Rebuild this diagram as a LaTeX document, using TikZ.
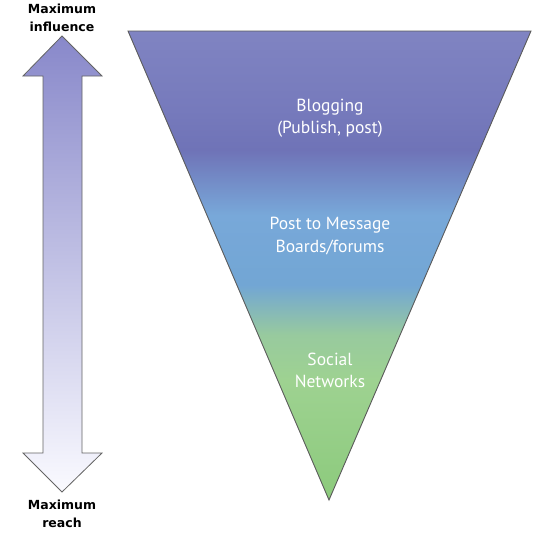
\documentclass[tikz,border=0pt]{standalone}
\usepackage{fontspec}
\setmainfont{PT Sans}
\newfontfamily\labfont{DejaVu Sans}
\begin{document}
\begin{tikzpicture}[x=1pt,y=-1pt,
  lab/.style={font=\labfont\bfseries\fontsize{12.5}{18}\selectfont, text=black, align=center, inner sep=0pt},
  tri/.style={font=\fontsize{17.5}{22.5}\selectfont, text=white, align=center, inner sep=0pt},
  band/.style={draw=none}]
\useasboundingbox (0,0) rectangle (540,546);
% funnel
\coordinate (tl) at (128,31);
\coordinate (tr) at (531,31);
\coordinate (bt) at (329,500);
\begin{scope}
\clip (tl) -- (tr) -- (bt) -- cycle;
\shade[top color={rgb,255:red,128;green,132;blue,194}, bottom color={rgb,255:red,118;green,122;blue,188}] (120,30) rectangle (540,110);
\shade[top color={rgb,255:red,118;green,122;blue,188}, bottom color={rgb,255:red,111;green,115;blue,183}] (120,110) rectangle (540,150);
\shade[top color={rgb,255:red,111;green,115;blue,183}, bottom color={rgb,255:red,120;green,168;blue,217}] (120,150) rectangle (540,215);
\shade[top color={rgb,255:red,120;green,168;blue,217}, bottom color={rgb,255:red,114;green,166;blue,212}] (120,215) rectangle (540,285);
\shade[top color={rgb,255:red,114;green,166;blue,212}, bottom color={rgb,255:red,152;green,202;blue,158}] (120,285) rectangle (540,335);
\shade[top color={rgb,255:red,152;green,202;blue,158}, bottom color={rgb,255:red,158;green,210;blue,145}] (120,335) rectangle (540,380);
\shade[top color={rgb,255:red,158;green,210;blue,145}, bottom color={rgb,255:red,140;green,202;blue,124}] (120,380) rectangle (540,502);
\end{scope}
\draw[draw={rgb,255:red,90;green,90;blue,90}, line width=0.9pt, line join=miter] (tl) -- (tr) -- (bt) -- cycle;
% arrow
\shade[top color={rgb,255:red,136;green,136;blue,202}, bottom color={rgb,255:red,250;green,250;blue,255}, draw={rgb,255:red,100;green,100;blue,100}, line width=0.8pt]
  (62,36) -- (102,76) -- (82,76) -- (82,453) -- (102,453) -- (62,492) -- (23,453) -- (43,453) -- (43,76) -- (23,76) -- cycle;
% labels
\node[lab] (infl) at (62,17.5) {Maximum\\influence};
\node[lab] (reach) at (62,514) {Maximum\\reach};
\node[tri] (blog) at (330,118) {Blogging\\(Publish, post)};
\node[tri] (post) at (330,236) {Post to Message\\Boards/forums};
\node[tri] (soc) at (330,370.5) {Social\\Networks};
\end{tikzpicture}
\end{document}
